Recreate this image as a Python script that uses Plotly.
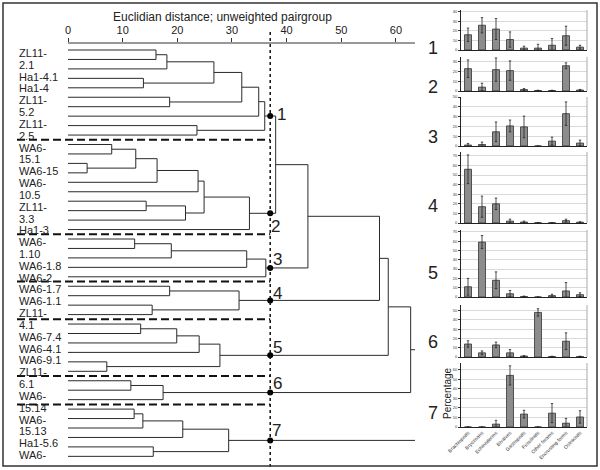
import plotly.graph_objects as go

W, H = 600, 470
FONT = "Liberation Sans, Arial, sans-serif"

# ---------------- dendrogram data ----------------
leaf_text = ["ZL11-", "2.1", "Ha1-4.1", "Ha1-4", "ZL11-", "5.2", "ZL11-", "2.5", "WA6-", "15.1",
             "WA6-15", "WA6-", "10.5", "ZL11-", "3.3", "Ha1-3", "WA6-", "1.10", "WA6-1.8", "WA6-2",
             "WA6-1.7", "WA6-1.1", "ZL11-", "4.1", "WA6-7.4", "WA6-4.1", "WA6-9.1", "ZL11-", "6.1",
             "WA6-", "15.14", "WA6-", "15.13", "Ha1-5.6", "WA6-"]
n_leaves = 44
# linkage: child a, child b, joining distance (new node ids start at n_leaves)
link_a = [0, 44, 3, 45, 5, 47, 49, 8, 50,
          10, 12, 53, 55, 56, 16, 58, 57, 60,
          20, 62, 63, 64,
          25, 27, 66,
          29, 69, 70, 33, 71,
          35, 74,
          38, 76, 77, 42, 78,
          52, 81, 82, 83, 84]
link_b = [1, 2, 4, 46, 6, 48, 7, 9, 51,
          11, 13, 54, 14, 15, 17, 18, 59, 19,
          21, 22, 23, 24,
          26, 28, 67,
          30, 31, 32, 34, 72,
          36, 37,
          39, 40, 41, 43, 79,
          61, 65, 68, 73, 75]
link_h = [16.1, 18.1, 13.8, 26.7, 18.6, 31.8, 34.9, 23.6, 36.0,
          8.0, 3.5, 12.4, 16.3, 23.8, 14.3, 21.5, 24.9, 33.2,
          12.2, 18.9, 32.7, 36.2,
          18.6, 15.4, 31.3,
          13.3, 19.9, 24.0, 7.1, 27.8,
          11.5, 17.4,
          12.1, 13.7, 21.0, 15.6, 29.4,
          38.0, 43.9, 57.0, 58.6, 62.7]
cut_level = 37
tail_level = 63.5
dist_ticks = [0, 10, 20, 30, 40, 50, 60]
cluster_names = ["1", "2", "3", "4", "5", "6", "7"]

# ---------------- bar data ----------------
categories = ["Brachiopods", "Bryozoans", "Echinoderms", "Bivalves", "Gastropods",
              "Fusulinids", "Other forams", "Encrusting forms", "Ostracods"]
g1_mean = [16, 26, 22, 11, 2, 2, 5, 15, 3]
g1_err = [7, 8, 11, 8, 2, 4, 7, 10, 2]
g2_mean = [23, 4, 22, 21, 1.5, 0.5, 0.5, 26, 1]
g2_err = [9, 4, 12, 10, 1, 0.3, 0.3, 3, 0.6]
g3_mean = [1, 1.5, 14.5, 20.5, 19.5, 0, 5, 33, 3]
g3_err = [1.5, 2.5, 10, 6, 11, 0, 4, 12, 3]
g4_mean = [56, 17, 20, 2, 1, 0.3, 0.3, 2.5, 0.8]
g4_err = [15, 11, 6, 2, 1, 0.2, 0.2, 1.5, 0.5]
g5_mean = [11, 59, 18, 3.5, 0.5, 0, 1.5, 6.5, 2.5]
g5_err = [9, 7, 9, 3.5, 0.5, 0, 1.5, 9, 2]
g6_mean = [14, 4.5, 13, 4.5, 1, 48, 0.5, 17, 0.5]
g6_err = [3.5, 2, 3, 3.5, 0.5, 4, 0.3, 9, 0.3]
g7_mean = [0, 0, 3, 54, 13.5, 0, 14.5, 4, 10.5]
g7_err = [0, 0, 4, 10, 4, 0, 10, 5, 6.5]
group_means = [g1_mean, g2_mean, g3_mean, g4_mean, g5_mean, g6_mean, g7_mean]
group_errs = [g1_err, g2_err, g3_err, g4_err, g5_err, g6_err, g7_err]
group_ymax = [42, 35, 50, 74, 72, 56, 67]

# ---------------- layout geometry (pixels) ----------------
px0 = 68            # pixel of distance 0
px_per = 5.465      # pixels per distance unit
dend_right = 415
dend_top, dend_bot = 43, 467
leaf0_px, leaf_step = 50, 9.45
panel_px = [(10, 50), (57, 91), (97, 146), (152, 223), (230, 297), (305, 357), (363, 427)]
panel_x = (461, 587)


def fx(p):
    return p / W


def fy(p):
    return 1 - p / H


fig = go.Figure()

# ---- dendrogram geometry ----
xs = {i: 0.0 for i in range(n_leaves)}
ys = {i: float(i) for i in range(n_leaves)}
parent = {}
members = {i: [i] for i in range(n_leaves)}
sx, sy = [], []
for k, (a, b, h) in enumerate(zip(link_a, link_b, link_h)):
    nid = n_leaves + k
    xs[nid] = h
    ys[nid] = (ys[a] + ys[b]) / 2
    members[nid] = members[a] + members[b]
    parent[a] = nid
    parent[b] = nid
    sx += [xs[a], h, h, xs[b], None]
    sy += [ys[a], ys[a], ys[b], ys[b], None]
for nid in list(xs):
    if nid >= n_leaves and nid not in parent:
        sx += [xs[nid], tail_level, None]
        sy += [ys[nid], ys[nid], None]

fig.add_trace(go.Scatter(x=sx, y=sy, mode="lines", line=dict(color="#2a2a2a", width=1),
                         xaxis="x", yaxis="y", hoverinfo="skip"))

# clusters at the cut level
roots = [n for n in xs if xs[n] < cut_level and (n not in parent or xs[parent[n]] > cut_level)]
roots.sort(key=lambda n: ys[n])
fig.add_trace(go.Scatter(x=[cut_level] * len(roots), y=[ys[n] for n in roots], mode="markers",
                         marker=dict(color="black", size=6), xaxis="x", yaxis="y", hoverinfo="skip"))

annotations = []
shapes = []
lab_dy = [-1, 13, -8, -7, -8, -9, -10]
lab_dx = [11, 5, 7, 7, 7, 7, 6]
for i, n in enumerate(roots):
    annotations.append(dict(x=cut_level, y=ys[n], xref="x", yref="y", text=cluster_names[i],
                            showarrow=False, xanchor="center", yanchor="middle",
                            xshift=lab_dx[i], yshift=-lab_dy[i],
                            font=dict(family=FONT, size=17, color="#222")))

# dashed separators between clusters
x_left_data = (17 - px0) / px_per
for n in roots[:-1]:
    yb = max(members[n]) + 0.5
    shapes.append(dict(type="line", xref="x", yref="y", x0=x_left_data, x1=cut_level,
                       y0=yb, y1=yb, line=dict(color="#111", width=2, dash="8px,4px")))

# dotted cut line
shapes.append(dict(type="line", xref="x", yref="paper", x0=cut_level, x1=cut_level,
                   y0=fy(467), y1=fy(30), line=dict(color="#111", width=1.5, dash="dot")))
# distance axis line
shapes.append(dict(type="line", xref="x", yref="paper", x0=0, x1=tail_level,
                   y0=fy(dend_top), y1=fy(dend_top), line=dict(color="#333", width=1)))

# leaf labels
lab_step = (455 - 53) / (len(leaf_text) - 1)
for i, t in enumerate(leaf_text):
    annotations.append(dict(x=fx(17), y=fy(53 + i * lab_step), xref="paper", yref="paper",
                            text=t, showarrow=False, xanchor="left", yanchor="middle",
                            font=dict(family=FONT, size=11, color="#222")))

annotations.append(dict(x=fx(222), y=fy(17), xref="paper", yref="paper",
                        text="Euclidian distance; unweighted pairgroup", showarrow=False,
                        xanchor="center", yanchor="middle",
                        font=dict(family=FONT, size=12, color="#222")))

xr0 = -px0 / px_per
xr1 = xr0 + dend_right / px_per
ytop = -(leaf0_px - dend_top) / leaf_step
ybot = (dend_bot - leaf0_px) / leaf_step
layout = dict(
    xaxis=dict(domain=[0, fx(dend_right)], range=[xr0, xr1], side="top", anchor="y",
               tickvals=dist_ticks, ticks="outside", ticklen=4, tickcolor="#333",
               showline=False, showgrid=False, zeroline=False, automargin=False,
               tickfont=dict(family=FONT, size=11, color="#222")),
    yaxis=dict(domain=[fy(dend_bot), fy(dend_top)], range=[ybot, ytop], anchor="x",
               showticklabels=False, showgrid=False, zeroline=False, showline=False, ticks="",
               automargin=False),
)

# ---- bar panels ----
for k in range(7):
    xa = "x%d" % (k + 2)
    ya = "y%d" % (k + 2)
    fig.add_trace(go.Bar(x=categories, y=group_means[k], xaxis=xa, yaxis=ya, width=0.5,
                         marker=dict(color="#8c8c8c", line=dict(color="#333", width=0.8)),
                         error_y=dict(type="data", array=group_errs[k], color="#222",
                                      thickness=0.8, width=1.2),
                         hoverinfo="skip"))
    top, bot = panel_px[k]
    layout["xaxis%d" % (k + 2)] = dict(
        domain=[fx(panel_x[0]), fx(panel_x[1])], anchor=ya, range=[-0.5, 8.5],
        showline=True, linecolor="#222", linewidth=1, showgrid=False, zeroline=False,
        ticks="", showticklabels=(k == 6), tickangle=-45, automargin=False,
        tickfont=dict(family=FONT, size=5, color="#333"))
    layout["yaxis%d" % (k + 2)] = dict(
        domain=[fy(bot), fy(top)], anchor=xa, range=[0, group_ymax[k]], dtick=10,
        showline=True, linecolor="#222", linewidth=1, showgrid=True, gridcolor="#cfcfcf",
        gridwidth=0.8, zeroline=False, ticks="outside", ticklen=2, tickcolor="#333",
        automargin=False, tickfont=dict(family=FONT, size=4, color="#333"))
    shapes.append(dict(type="line", xref="paper", yref="paper", x0=fx(panel_x[1]), x1=fx(panel_x[1]),
                       y0=fy(bot), y1=fy(top), line=dict(color="#aaa", width=1)))

panel_lab_y = [48, 87, 137, 206, 273, 342, 413]
for k in range(7):
    annotations.append(dict(x=fx(433), y=fy(panel_lab_y[k]), xref="paper", yref="paper",
                            text=cluster_names[k], showarrow=False, xanchor="center",
                            yanchor="middle", font=dict(family=FONT, size=18, color="#222")))
annotations.append(dict(x=fx(447), y=fy(393), xref="paper", yref="paper", text="Percentage",
                        showarrow=False, textangle=-90, xanchor="center", yanchor="middle",
                        font=dict(family=FONT, size=10, color="#222")))

# outer frame
shapes.append(dict(type="rect", xref="paper", yref="paper", x0=fx(3), x1=fx(597),
                   y0=fy(466), y1=fy(3), line=dict(color="#333", width=1.5)))

fig.update_layout(**layout)
fig.update_layout(template="none", width=W, height=H, margin=dict(l=0, r=0, t=0, b=0, pad=0),
                  showlegend=False, paper_bgcolor="white", plot_bgcolor="white", bargap=0.5,
                  font=dict(family=FONT, color="#222"), hovermode=False,
                  annotations=annotations, shapes=shapes)
fig.write_html("out.html", config={"displayModeBar": False, "staticPlot": True},
               post_script="document.body.style.margin='0';document.body.style.padding='0';"
                           "document.body.style.overflow='hidden';")
